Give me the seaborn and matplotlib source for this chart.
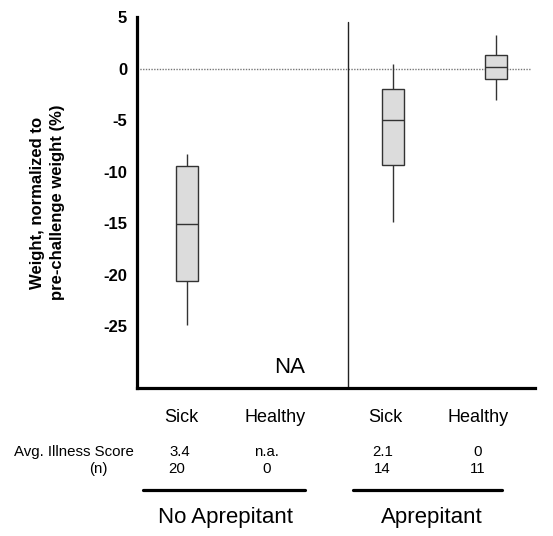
import matplotlib
matplotlib.use("Agg")
import matplotlib.pyplot as plt
from matplotlib.lines import Line2D
import seaborn as sns
import pandas as pd
import numpy as np

# ── Data (five-number summaries) ──────────────────────────────────────────────
treatments = ["No Aprepitant", "No Aprepitant", "Aprepitant", "Aprepitant"]
status = ["Sick", "Healthy", "Sick", "Healthy"]
whisker_low = [-24.9, np.nan, -14.9, -3.1]
q1 = [-20.6, np.nan, -9.4, -1.0]
median = [-15.1, np.nan, -5.0, 0.1]
q3 = [-9.5, np.nan, -2.0, 1.3]
whisker_high = [-8.3, np.nan, 0.4, 3.3]
illness_score = ["3.4", "n.a.", "2.1", "0"]
n_mice = ["20", "0", "14", "11"]
y_ticks = [5, 0, -5, -10, -15, -20, -25]

# long table: one row per summary value, so whis=(0, 100) reproduces the box
groups = [f"{t} {s}" for t, s in zip(treatments, status)]
rows = []
for g, lo, a, m, b, hi in zip(groups, whisker_low, q1, median, q3, whisker_high):
    for v in (lo, a, m, b, hi):
        if not np.isnan(v):
            rows.append({"group": g, "weight": v})
df = pd.DataFrame(rows)

# ── Style ─────────────────────────────────────────────────────────────────────
sns.set_theme(style="white")
plt.rcParams["font.family"] = ["Liberation Sans", "DejaVu Sans"]
plt.rcParams["axes.unicode_minus"] = False
plt.rcParams["text.color"] = "black"
plt.rcParams["axes.labelcolor"] = "black"
plt.rcParams["ytick.color"] = "black"

W, H = 553, 536
fig = plt.figure(figsize=(W / 100, H / 100), dpi=100)
ax = fig.add_axes([137 / W, 1 - 388 / H, (535 - 137) / W, (388 - 17) / H])

sns.boxplot(
    data=df, x="group", y="weight", order=groups, whis=(0, 100),
    width=0.21, color="#dcdcdc", linecolor="#333333", linewidth=1,
    showfliers=False, showcaps=False, ax=ax,
)
for patch in ax.patches:
    patch.set_facecolor("#dcdcdc")

ax.set_xlim(-0.485, 3.38)
ax.set_ylim(-31, 5)
ax.set_yticks(y_ticks)
ax.set_yticklabels([str(t) for t in y_ticks], fontsize=12, fontweight="bold")
ax.tick_params(axis="y", length=0, pad=7)
ax.set_xticks([])
ax.set_xlabel("")
ax.set_ylabel("Weight, normalized to\npre-challenge weight (%)",
              fontsize=12, fontweight="bold", linespacing=1.4)
ax.yaxis.set_label_coords(-0.181, 0.5)

for side in ("top", "right"):
    ax.spines[side].set_visible(False)
for side in ("left", "bottom"):
    ax.spines[side].set_linewidth(2.3)
    ax.spines[side].set_color("black")

ax.axhline(0, xmax=0.987, color="#777777", lw=1, ls=(0, (1, 1)), zorder=0)
ax.axvline(1.563, ymax=0.987, color="#222222", lw=1)
ax.text(1, -29, "NA", ha="center", va="center", fontsize=16)

# ── Table below the axes ──────────────────────────────────────────────────────
def ftext(px, py, s, **kw):
    fig.text(px / W, 1 - py / H, s, va="center", **kw)

for px, s in zip([181, 275, 385, 478], status):
    ftext(px, 417, s, ha="center", fontsize=13)
ftext(134, 452, "Avg. Illness Score", ha="right", fontsize=10.8)
ftext(108, 469, "(n)", ha="right", fontsize=10.8)
for px, s in zip([180, 266, 383, 478], illness_score):
    ftext(px, 452, s, ha="center", fontsize=10.8)
for px, s in zip([177, 267, 382, 478], n_mice):
    ftext(px, 469, s, ha="center", fontsize=10.8)

for x0, x1 in [(143, 305), (353, 502)]:
    fig.add_artist(Line2D([x0 / W, x1 / W], [1 - 490 / H] * 2,
                          color="black", lw=2.3, transform=fig.transFigure))
ftext(225, 518, "No Aprepitant", ha="center", fontsize=16)
ftext(432, 518, "Aprepitant", ha="center", fontsize=16)

fig.savefig("out.png", dpi=100)
